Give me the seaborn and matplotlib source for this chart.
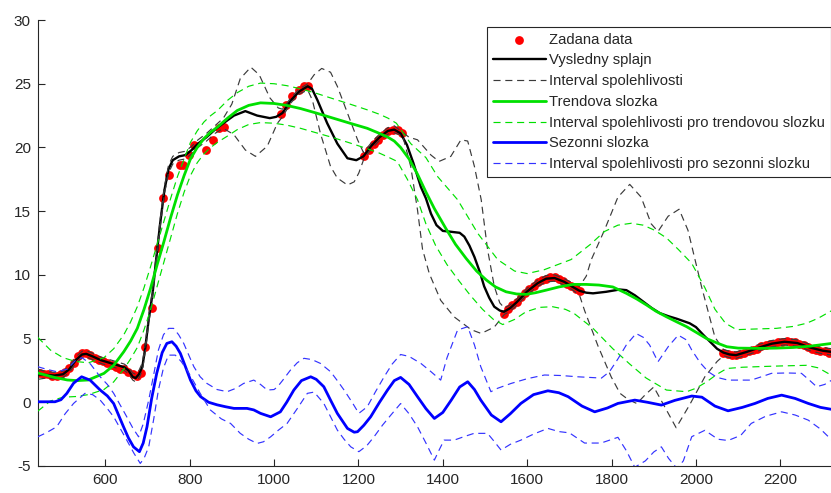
import matplotlib
matplotlib.use("Agg")
import matplotlib.pyplot as plt
import seaborn as sns

# ---- measured data points ----
data_x = [445, 455, 465, 475, 485, 495, 505, 515, 525, 535, 545, 555, 565, 575, 585, 595,
          605, 615, 625, 635, 645, 655, 665, 675, 685,
          695, 711, 725, 738, 751, 776, 784, 798, 810, 839, 855, 869, 882,
          1016, 1028, 1043, 1059, 1071, 1080,
          1213, 1225, 1237, 1247, 1258, 1270, 1282, 1293, 1304,
          1545, 1555, 1565, 1575, 1585, 1595, 1605, 1615, 1625, 1635, 1645, 1655, 1665,
          1675, 1685, 1695, 1705, 1715, 1725,
          2065, 2075, 2085, 2095, 2105, 2115, 2125, 2135, 2145, 2155, 2165, 2175, 2185,
          2195, 2205, 2215, 2225, 2235, 2245, 2255, 2265, 2275, 2285, 2295, 2305, 2315]
data_y = [2.3, 2.2, 2.2, 2.1, 2.1, 2.2, 2.4, 2.7, 3.1, 3.6, 3.9, 3.9, 3.7, 3.5, 3.3, 3.2,
          3.1, 2.9, 2.8, 2.6, 2.6, 2.4, 2.2, 2.1, 2.3,
          4.3, 7.4, 12.1, 16.0, 17.8, 18.6, 18.6, 19.4, 20.2, 19.8, 20.6, 21.5, 21.6,
          22.6, 23.3, 24.0, 24.5, 24.8, 24.8,
          19.3, 19.8, 20.3, 20.6, 21.0, 21.3, 21.4, 21.4, 21.1,
          6.9, 7.3, 7.6, 7.9, 8.3, 8.6, 8.9, 9.1, 9.4, 9.6, 9.7, 9.8, 9.8,
          9.7, 9.5, 9.3, 9.1, 8.9, 8.7,
          3.9, 3.8, 3.7, 3.7, 3.8, 3.9, 4.0, 4.1, 4.2, 4.4, 4.5, 4.6, 4.6,
          4.7, 4.7, 4.8, 4.7, 4.7, 4.6, 4.5, 4.3, 4.2, 4.1, 4.0, 4.0, 3.9]

# ---- resulting spline and its confidence band ----
fit_x = [440, 460, 480, 500, 515, 530, 545, 555, 570, 590, 610, 630, 645, 655, 665, 672, 680,
         688, 695, 703, 712, 720, 730, 740, 750, 760, 775, 790, 805, 820, 840, 860, 880, 905,
         932, 960, 990, 1005, 1020, 1040, 1060, 1080, 1090, 1103, 1126, 1150, 1174, 1195, 1212,
         1230, 1250, 1270, 1285, 1300, 1315, 1330, 1348, 1360, 1372, 1385, 1400, 1415, 1427,
         1440, 1451, 1463, 1475, 1488, 1498, 1510, 1522, 1535, 1545, 1560, 1575, 1600, 1625,
         1645, 1665, 1688, 1708, 1724, 1740, 1756, 1787, 1819, 1835, 1855, 1875, 1895, 1914,
         1935, 1955, 1985, 2000, 2017, 2035, 2050, 2065, 2080, 2095, 2120, 2150, 2180, 2210,
         2240, 2270, 2300, 2322]
fit_y = [2.2, 2.15, 2.1, 2.2, 2.6, 3.3, 3.75, 3.8, 3.6, 3.3, 3.1, 2.9, 2.75, 2.5, 2.0, 1.9, 2.2,
         2.8, 4.3, 6.5, 8.5, 11.0, 14.0, 16.6, 18.3, 19.0, 19.3, 19.4, 19.8, 20.3, 20.8, 21.4,
         21.9, 22.5, 22.85, 22.5, 22.3, 22.4, 22.7, 23.7, 24.4, 24.8, 24.6, 23.7, 21.9, 20.3,
         19.15, 19.0, 19.3, 20.1, 20.8, 21.3, 21.4, 21.1, 20.2, 18.8, 16.9, 16.0, 14.8, 13.9,
         13.45, 13.4, 13.35, 13.3, 13.0, 12.3, 11.4, 10.2, 9.1, 8.2, 7.5, 7.2, 7.1, 7.4, 7.85,
         8.7, 9.35, 9.7, 9.75, 9.45, 9.05, 8.75, 8.6, 8.55, 8.67, 8.85, 8.8, 8.4, 7.9, 7.4, 7.0,
         6.75, 6.55, 6.2, 5.9, 5.3, 4.7, 4.2, 3.9, 3.75, 3.7, 3.95, 4.3, 4.6, 4.75, 4.65, 4.3,
         4.05, 3.95]

fit_hi_x = [440, 460, 480, 500, 515, 530, 545, 555, 570, 590, 610, 630, 645, 655, 665, 672, 680,
            688, 695, 703, 712, 720, 730, 740, 750, 760, 775, 790, 805, 820, 840, 860, 880, 900,
            920, 945, 965, 990, 1010, 1020, 1040, 1060, 1080, 1095, 1113, 1134, 1150, 1174, 1198,
            1212, 1230, 1250, 1270, 1285, 1300, 1320, 1340, 1372, 1391, 1419, 1443, 1459, 1475,
            1491, 1506, 1522, 1535, 1546, 1560, 1575, 1600, 1625, 1645, 1665, 1688, 1708, 1724,
            1740, 1752, 1783, 1815, 1843, 1870, 1894, 1910, 1934, 1960, 1981, 2013, 2045, 2065,
            2080, 2095, 2120, 2150, 2180, 2210, 2240, 2270, 2300, 2322]
fit_hi_y = [2.6, 2.4, 2.35, 2.45, 2.85, 3.55, 4.0, 4.05, 3.85, 3.55, 3.35, 3.15, 3.0, 2.75, 2.3,
            2.2, 2.5, 3.1, 4.6, 6.8, 8.8, 11.3, 14.3, 16.9, 18.6, 19.3, 19.6, 19.7, 20.1, 20.6,
            21.1, 21.7, 22.3, 23.4, 25.4, 26.3, 25.7, 23.9, 23.1, 23.0, 23.9, 24.6, 25.0, 25.7,
            26.2, 25.9, 24.8, 22.7, 20.6, 19.6, 20.35, 21.05, 21.55, 21.7, 21.3, 20.8, 20.6, 19.4,
            18.9, 19.3, 20.6, 20.5, 18.5, 15.9, 12.0, 9.1, 7.8, 7.4, 7.65, 8.1, 8.95, 9.6, 9.95,
            10.0, 9.7, 9.35, 9.1, 9.9, 11.2, 13.5, 16.1, 17.1, 16.1, 14.0, 13.4, 14.6, 15.15, 13.5,
            9.1, 5.1, 4.15, 4.0, 3.95, 4.2, 4.55, 4.85, 5.0, 4.9, 4.55, 4.3, 4.2]

fit_lo_x = [440, 460, 480, 500, 515, 530, 545, 555, 570, 590, 610, 630, 645, 655, 665, 672, 680,
            688, 695, 703, 712, 720, 730, 740, 750, 760, 775, 790, 805, 820, 840, 860, 880, 905,
            932, 956, 984, 1008, 1020, 1040, 1060, 1080, 1091, 1110, 1134, 1150, 1174, 1190, 1201,
            1213, 1230, 1250, 1270, 1285, 1305, 1324, 1340, 1352, 1368, 1395, 1427, 1467, 1491,
            1522, 1546, 1560, 1575, 1600, 1625, 1645, 1665, 1688, 1708, 1724, 1736, 1768, 1799,
            1820, 1840, 1860, 1880, 1900, 1925, 1953, 1985, 2021, 2050, 2065, 2080, 2095, 2120,
            2150, 2180, 2210, 2240, 2270, 2300, 2322]
fit_lo_y = [1.8, 1.9, 1.85, 1.95, 2.35, 3.05, 3.5, 3.55, 3.35, 3.05, 2.85, 2.65, 2.5, 2.25, 1.75,
            1.6, 1.9, 2.5, 4.0, 6.2, 8.2, 10.7, 13.7, 16.3, 18.0, 18.7, 19.0, 19.1, 19.5, 20.0,
            20.5, 21.1, 21.5, 21.0, 19.8, 19.3, 20.1, 21.9, 22.4, 23.5, 24.2, 24.5, 23.7, 21.1,
            18.5, 17.6, 17.05, 17.3, 18.0, 19.1, 19.85, 20.55, 21.05, 21.15, 20.9, 18.5, 15.1,
            12.0, 10.1, 8.0, 6.7, 5.7, 5.4, 5.9, 6.9, 7.15, 7.6, 8.45, 9.1, 9.45, 9.5, 9.2, 8.8,
            8.4, 7.2, 4.4, 2.0, 0.7, 0.2, -0.1, 0.6, 1.2, -0.3, -2.0, -0.2, 2.0, 3.2, 3.65, 3.5,
            3.45, 3.7, 4.05, 4.35, 4.5, 4.4, 4.05, 3.8, 3.7]

# ---- trend component and its band ----
trend_x = [440, 480, 510, 533, 560, 597, 620, 644, 660, 676, 692, 707, 723, 739, 755, 771, 787,
           802, 818, 834, 850, 866, 890, 913, 940, 968, 1000, 1030, 1063, 1100, 1142, 1180, 1221,
           1250, 1270, 1285, 1300, 1320, 1340, 1360, 1380, 1407, 1430, 1455, 1480, 1503, 1525,
           1550, 1575, 1598, 1620, 1645, 1675, 1708, 1740, 1770, 1803, 1835, 1860, 1883, 1905,
           1930, 1955, 1978, 2000, 2025, 2050, 2073, 2100, 2150, 2190, 2230, 2270, 2322]
trend_y = [2.3, 1.95, 1.75, 1.7, 1.75, 2.27, 2.9, 3.97, 4.8, 5.8, 7.3, 8.9, 10.8, 12.6, 14.5,
           16.26, 17.8, 19.1, 20.0, 20.7, 21.2, 21.6, 22.3, 22.9, 23.3, 23.5, 23.45, 23.3, 23.05,
           22.7, 22.28, 21.9, 21.5, 21.1, 20.8, 20.5, 20.0, 19.1, 17.9, 16.5, 15.2, 13.65, 12.4,
           11.3, 10.3, 9.6, 9.05, 8.67, 8.5, 8.47, 8.6, 8.8, 9.05, 9.25, 9.25, 9.2, 9.05, 8.55,
           8.1, 7.63, 7.15, 6.71, 6.3, 5.93, 5.5, 5.0, 4.65, 4.36, 4.25, 4.23, 4.25, 4.3, 4.4, 4.62]

trend_hi_x = [440, 470, 500, 530, 560, 597, 620, 644, 660, 676, 692, 707, 723, 739, 755, 771,
              787, 802, 818, 834, 850, 866, 890, 913, 940, 968, 1000, 1030, 1063, 1100, 1142,
              1180, 1221, 1250, 1270, 1290, 1324, 1360, 1388, 1435, 1483, 1530, 1570, 1600, 1640,
              1680, 1704, 1750, 1783, 1815, 1847, 1875, 1902, 1930, 1958, 1990, 2021, 2045, 2070,
              2096, 2140, 2190, 2230, 2262, 2290, 2322]
trend_hi_y = [5.1, 4.1, 3.5, 3.2, 3.1, 3.5, 4.2, 5.3, 6.3, 7.5, 9.0, 10.6, 12.4, 14.2, 16.0,
              17.7, 19.1, 20.4, 21.3, 22.0, 22.5, 22.9, 23.7, 24.3, 24.8, 25.05, 25.0, 24.85,
              24.6, 24.25, 23.8, 23.4, 22.95, 22.6, 22.3, 21.9, 20.3, 19.2, 17.7, 15.9, 13.25,
              11.2, 10.3, 10.1, 10.4, 10.9, 11.2, 12.4, 13.4, 13.9, 14.05, 13.9, 13.5, 12.9, 12.0,
              10.9, 9.0, 7.3, 6.2, 5.7, 5.75, 5.8, 5.95, 6.2, 6.6, 7.2]

trend_lo_x = [440, 470, 500, 530, 560, 597, 620, 644, 660, 676, 692, 707, 723, 739, 755, 771,
              787, 802, 818, 834, 850, 866, 890, 913, 940, 968, 1000, 1030, 1063, 1100, 1142,
              1180, 1221, 1250, 1270, 1292, 1316, 1340, 1360, 1383, 1410, 1439, 1465, 1494, 1520,
              1542, 1570, 1597, 1630, 1660, 1690, 1710, 1756, 1803, 1843, 1882, 1930, 1978, 2000,
              2025, 2050, 2073, 2110, 2152, 2200, 2262, 2290, 2322]
trend_lo_y = [-0.7, 0.1, 0.4, 0.45, 0.6, 1.0, 1.6, 2.6, 3.4, 4.3, 5.7, 7.2, 9.1, 11.0, 12.9,
              14.8, 16.5, 17.8, 18.8, 19.5, 20.0, 20.4, 20.9, 21.4, 21.8, 21.95, 21.9, 21.75,
              21.5, 21.15, 20.75, 20.35, 19.9, 19.55, 19.25, 18.9, 17.5, 15.9, 14.0, 12.3, 10.8,
              9.5, 8.4, 7.3, 6.5, 6.1, 6.5, 7.1, 7.45, 7.5, 7.3, 7.0, 5.8, 4.2, 3.0, 1.9, 0.96,
              0.83, 1.1, 1.6, 2.2, 2.65, 2.75, 2.8, 2.85, 2.9, 2.7, 2.1]

# ---- seasonal component and its band ----
seas_x = [440, 481, 495, 509, 525, 544, 564, 588, 605, 620, 643, 655, 667, 681, 690, 699, 710,
          722, 735, 746, 758, 768, 778, 790, 802, 815, 826, 845, 865, 885, 905, 936, 952, 968,
          992, 1015, 1030, 1047, 1065, 1087, 1100, 1118, 1135, 1150, 1174, 1190, 1198, 1213, 1229,
          1250, 1269, 1285, 1300, 1320, 1340, 1360, 1380, 1400, 1420, 1440, 1459, 1475, 1490,
          1515, 1538, 1560, 1585, 1615, 1649, 1675, 1697, 1730, 1760, 1790, 1815, 1855, 1885,
          1918, 1950, 1990, 2014, 2045, 2076, 2110, 2140, 2170, 2203, 2235, 2266, 2295, 2322]
seas_y = [0.04, 0.04, 0.2, 0.7, 1.5, 2.0, 1.74, 0.96, 0.5, -0.1, -1.9, -2.8, -3.5, -3.88, -3.2,
          -1.92, 0.3, 2.27, 3.9, 4.62, 4.75, 4.4, 3.84, 2.8, 1.74, 0.9, 0.44, 0.0, -0.2, -0.35,
          -0.48, -0.48, -0.6, -0.87, -1.14, -0.75, 0.0, 0.96, 1.7, 2.0, 1.8, 1.22, 0.1, -0.87,
          -2.05, -2.35, -2.31, -1.8, -1.14, 0.0, 0.96, 1.7, 1.95, 1.4, 0.44, -0.5, -1.27, -0.8,
          0.17, 1.2, 1.61, 1.0, 0.17, -1.0, -1.53, -0.9, -0.09, 0.6, 0.9, 0.75, 0.44, -0.3,
          -0.75, -0.45, -0.09, 0.17, 0.0, -0.22, 0.15, 0.49, 0.4, -0.3, -0.67, -0.4, -0.09, 0.3,
          0.56, 0.3, -0.09, -0.4, -0.56]

seas_hi_x = [440, 460, 485, 510, 530, 545, 565, 588, 605, 620, 651, 665, 679, 690, 703, 715, 726,
             738, 750, 762, 774, 786, 798, 810, 825, 841, 865, 889, 910, 928, 952, 968, 984, 1000,
             1008, 1020, 1039, 1055, 1071, 1090, 1110, 1134, 1150, 1166, 1185, 1201, 1221, 1240,
             1261, 1280, 1300, 1320, 1348, 1372, 1395, 1410, 1435, 1459, 1475, 1490, 1514, 1530,
             1562, 1600, 1641, 1680, 1720, 1776, 1795, 1815, 1835, 1858, 1875, 1890, 1910, 1935,
             1958, 1977, 1990, 2010, 2029, 2050, 2076, 2131, 2155, 2179, 2215, 2250, 2270, 2286,
             2305, 2322]
seas_hi_y = [2.79, 2.6, 2.4, 2.6, 3.3, 3.5, 3.0, 2.0, 1.4, 0.7, -1.14, -2.0, -2.71, -1.7, 0.17,
             2.2, 4.1, 5.3, 5.8, 5.8, 5.3, 4.62, 3.7, 2.79, 2.0, 1.48, 1.0, 0.83, 1.1, 1.48, 1.74,
             1.4, 0.96, 1.0, 1.2, 1.7, 2.53, 3.1, 3.45, 3.35, 3.05, 2.4, 1.7, 0.96, 0.0, -0.87,
             -0.35, 0.8, 2.0, 3.0, 3.75, 3.6, 3.05, 2.4, 1.74, 3.5, 5.67, 5.93, 4.5, 2.79, 0.83,
             1.1, 1.48, 1.85, 2.14, 2.1, 2.0, 1.9, 2.4, 3.4, 4.5, 5.4, 5.1, 4.5, 3.18, 4.4, 5.27,
             4.9, 4.1, 3.1, 2.4, 1.95, 1.74, 1.74, 2.0, 2.27, 2.3, 2.27, 1.7, 1.22, 1.4, 1.74]

seas_lo_x = [440, 460, 485, 505, 525, 552, 570, 588, 605, 620, 651, 668, 683, 692, 703, 715, 726,
             738, 750, 766, 780, 794, 810, 825, 849, 875, 897, 920, 940, 960, 975, 992, 1010,
             1031, 1055, 1079, 1095, 1118, 1135, 1150, 1166, 1182, 1201, 1220, 1237, 1257, 1277,
             1300, 1320, 1340, 1360, 1380, 1392, 1403, 1427, 1450, 1474, 1506, 1520, 1538, 1560,
             1585, 1615, 1649, 1675, 1700, 1736, 1775, 1815, 1835, 1855, 1880, 1900, 1918, 1935,
             1955, 1970, 1990, 2021, 2052, 2076, 2106, 2131, 2165, 2203, 2235, 2266, 2295, 2322]
seas_lo_y = [-2.71, -2.4, -1.92, -0.9, -0.09, 0.7, 0.6, 0.17, -0.5, -1.14, -2.97, -4.0, -4.8,
             -4.4, -3.5, -1.3, 0.96, 2.7, 3.7, 3.7, 3.2, 2.53, 1.6, 0.7, -0.6, -1.3, -1.66, -2.44,
             -2.9, -3.23, -3.1, -2.71, -2.2, -1.66, -0.5, 0.7, 0.8, -0.09, -1.2, -2.18, -2.9,
             -3.5, -3.88, -3.4, -2.71, -1.8, -1.0, -0.1, -0.9, -1.92, -3.2, -4.54, -3.7, -2.97,
             -2.97, -2.7, -2.44, -2.44, -3.0, -3.75, -3.3, -2.97, -2.5, -2.05, -2.3, -2.4, -3.2,
             -3.2, -2.75, -3.8, -5.1, -4.6, -3.9, -3.5, -4.4, -5.2, -4.6, -2.7, -2.2, -2.9, -3.0,
             -2.6, -1.66, -1.1, -0.75, -1.0, -1.4, -2.1, -2.97]

x_ticks = [600, 800, 1000, 1200, 1400, 1600, 1800, 2000, 2200]
y_ticks = [-5, 0, 5, 10, 15, 20, 25, 30]

labels = ["Zadana data", "Vysledny splajn", "Interval spolehlivosti", "Trendova slozka",
          "Interval spolehlivosti pro trendovou slozku", "Sezonni slozka",
          "Interval spolehlivosti pro sezonni slozku"]

sns.set_theme(style="white")
plt.rcParams["font.family"] = ["Liberation Sans", "DejaVu Sans"]
plt.rcParams["axes.unicode_minus"] = False

GREEN = "#00e000"
BLUE = "#0000ff"
DASH = (0, (6, 4))

fig = plt.figure(figsize=(8.31, 4.93), dpi=100)
ax = fig.add_axes([0.0454, 0.0548, 0.9546, 0.9046])

sns.scatterplot(x=data_x, y=data_y, ax=ax, color="#ff0000", s=40, linewidth=0,
                zorder=2, legend=False)
sns.lineplot(x=fit_x, y=fit_y, ax=ax, color="black", linewidth=1.7, sort=False, zorder=3)
sns.lineplot(x=fit_hi_x, y=fit_hi_y, ax=ax, color="#3a3a3a", linewidth=0.85,
             linestyle=DASH, sort=False, zorder=3)
sns.lineplot(x=fit_lo_x, y=fit_lo_y, ax=ax, color="#3a3a3a", linewidth=0.85,
             linestyle=DASH, sort=False, zorder=3)
sns.lineplot(x=trend_x, y=trend_y, ax=ax, color=GREEN, linewidth=2.0, sort=False, zorder=4)
sns.lineplot(x=trend_hi_x, y=trend_hi_y, ax=ax, color=GREEN, linewidth=0.85,
             linestyle=DASH, sort=False, zorder=4)
sns.lineplot(x=trend_lo_x, y=trend_lo_y, ax=ax, color=GREEN, linewidth=0.85,
             linestyle=DASH, sort=False, zorder=4)
sns.lineplot(x=seas_x, y=seas_y, ax=ax, color=BLUE, linewidth=2.0, sort=False, zorder=5)
sns.lineplot(x=seas_hi_x, y=seas_hi_y, ax=ax, color="#3333ff", linewidth=0.85,
             linestyle=DASH, sort=False, zorder=5)
sns.lineplot(x=seas_lo_x, y=seas_lo_y, ax=ax, color="#3333ff", linewidth=0.85,
             linestyle=DASH, sort=False, zorder=5)

ax.set_xlim(440, 2320)
ax.set_ylim(-5, 30)
ax.set_xticks(x_ticks)
ax.set_yticks(y_ticks)
ax.set_xlabel("")
ax.set_ylabel("")

for side in ("top", "right"):
    ax.spines[side].set_visible(False)
for side in ("left", "bottom"):
    ax.spines[side].set_color("#262626")
    ax.spines[side].set_linewidth(0.8)
ax.tick_params(direction="in", length=5, width=0.8, colors="#262626", labelsize=11,
               left=True, bottom=True, pad=5)

# legend handles: the scatter collection plus one line from each group
lines = ax.get_lines()
handles = [ax.collections[0], lines[0], lines[1], lines[3], lines[4], lines[6], lines[7]]
leg = ax.legend(handles, labels, loc="upper right", bbox_to_anchor=(1.0, 0.985),
                fontsize=10.6, frameon=True, fancybox=False, framealpha=1,
                edgecolor="#262626", handlelength=3.6, handletextpad=0.25,
                labelspacing=0.46, borderpad=0.4, borderaxespad=0.0, markerscale=1.0)
leg.get_frame().set_linewidth(0.8)

fig.savefig("out.png", dpi=100)
